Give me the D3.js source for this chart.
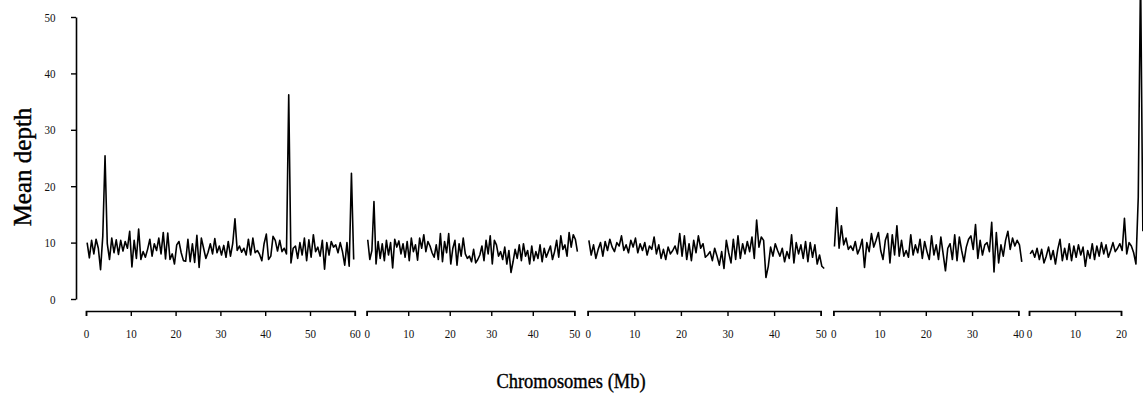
<!DOCTYPE html>
<html>
<head>
<meta charset="utf-8">
<script src="https://cdn.jsdelivr.net/npm/d3@7"></script>
<style>
  body { margin: 0; background: #fff; }
  svg { display: block; }
  text { font-family: "Liberation Serif", "Times New Roman", serif; }
  .tick text { font-size: 13px; fill: #111; }
</style>
</head>
<body>
<div id="grafica"></div>
<script>
// mean depth per 0.5 Mb bin, one array per chromosome
const binMb = 0.5;
const chr1 = [10.0, 7.3, 10.4, 8.0, 10.6, 9.0, 5.2, 11.2, 25.4, 9.8,
  7.0, 10.8, 8.2, 10.5, 7.9, 10.4, 8.5, 10.2, 9.0, 12.0,
  5.7, 10.4, 7.2, 12.4, 7.0, 8.4, 7.4, 8.8, 10.6, 7.6,
  9.8, 8.6, 10.8, 8.0, 11.8, 7.1, 11.7, 7.0, 8.0, 6.2,
  9.6, 10.2, 8.2, 6.8, 6.7, 10.6, 6.6, 9.8, 6.5, 11.3,
  5.6, 10.8, 9.0, 7.2, 8.3, 9.8, 8.0, 10.7, 8.2, 9.4,
  7.8, 9.5, 7.4, 10.2, 7.6, 9.8, 14.2, 8.6, 9.4, 8.3,
  9.0, 7.8, 10.6, 7.8, 10.8, 8.2, 8.6, 7.9, 6.8, 9.8,
  11.5, 7.0, 7.6, 11.1, 10.4, 8.5, 10.4, 8.4, 9.0, 8.0,
  36.2, 6.4, 9.0, 9.4, 7.2, 10.0, 7.8, 10.8, 6.8, 10.5,
  7.4, 11.4, 8.4, 9.2, 7.6, 10.4, 5.3, 10.0, 7.8, 10.2,
  9.2, 9.6, 8.2, 10.0, 8.4, 6.0, 10.0, 5.8, 22.3, 7.0];
const chr2 = [10.5, 7.0, 8.6, 17.3, 6.2, 10.2, 7.2, 9.8, 6.8, 10.4,
  7.8, 10.0, 5.5, 10.6, 9.2, 10.3, 8.0, 9.8, 7.4, 10.2,
  6.8, 10.8, 8.4, 9.6, 6.9, 10.8, 9.0, 11.4, 8.4, 10.2,
  9.4, 8.2, 7.4, 9.6, 7.0, 11.6, 6.6, 10.2, 8.2, 11.6,
  6.2, 9.0, 10.4, 6.0, 9.8, 7.6, 10.8, 8.0, 7.2, 7.6,
  6.6, 8.8, 6.4, 7.0, 7.8, 9.4, 6.8, 10.4, 8.0, 11.2,
  6.2, 10.4, 9.6, 7.6, 8.4, 7.0, 9.2, 6.2, 8.6, 4.7,
  6.6, 8.8, 7.2, 9.6, 6.8, 9.8, 7.6, 8.6, 6.2, 9.4,
  6.8, 8.4, 7.2, 9.6, 6.6, 9.0, 7.4, 8.4, 9.4, 7.0,
  8.4, 10.4, 7.4, 11.2, 8.8, 9.6, 7.6, 11.8, 9.2, 11.4,
  10.6, 8.4];
const chr3 = [10.4, 7.8, 9.6, 7.2, 8.8, 10.0, 7.6, 10.2, 8.6, 10.6,
  9.2, 8.4, 10.0, 9.4, 11.2, 8.6, 9.6, 8.2, 10.4, 9.2,
  10.8, 8.2, 9.8, 8.6, 10.0, 7.8, 9.4, 8.8, 11.0, 8.0,
  9.6, 7.2, 8.8, 7.0, 9.2, 8.0, 8.6, 9.4, 8.0, 11.6,
  7.6, 11.2, 7.0, 9.8, 6.8, 10.4, 8.2, 11.2, 9.0, 9.8,
  7.4, 7.8, 8.4, 6.8, 9.0, 7.6, 6.0, 8.4, 5.4, 10.4,
  8.2, 6.4, 10.6, 7.0, 11.2, 7.2, 9.8, 8.0, 10.2, 8.4,
  11.0, 7.2, 14.0, 9.2, 11.0, 10.4, 3.8, 5.8, 9.2, 7.6,
  9.8, 8.6, 7.6, 9.0, 6.6, 8.4, 7.2, 11.4, 6.4, 10.0,
  8.0, 9.6, 7.2, 10.2, 6.6, 10.0, 7.4, 9.6, 6.2, 7.8,
  5.8, 5.4];
const chr4 = [9.3, 16.2, 9.0, 13.0, 9.6, 10.8, 8.8, 9.4, 8.6, 10.2,
  8.0, 9.0, 10.6, 5.6, 10.0, 8.4, 11.6, 9.2, 10.4, 11.8,
  8.6, 7.0, 10.4, 11.6, 6.4, 11.4, 7.8, 13.0, 7.6, 10.4,
  7.6, 8.6, 7.4, 11.4, 7.8, 9.6, 8.2, 10.6, 7.2, 10.2,
  8.4, 7.0, 11.2, 7.8, 9.6, 7.0, 11.0, 8.0, 5.0, 9.0,
  9.8, 7.0, 11.4, 6.8, 11.0, 8.6, 6.6, 9.2, 10.6, 11.2,
  8.8, 13.2, 7.2, 10.4, 7.8, 9.6, 10.0, 8.4, 13.6, 4.8,
  11.8, 6.4, 9.6, 7.6, 10.4, 12.0, 8.8, 10.8, 9.4, 10.4,
  9.6, 6.6];
const chr5 = [8.0, 8.6, 7.4, 9.0, 7.0, 8.8, 6.4, 7.6, 9.2, 7.0,
  8.6, 6.2, 8.8, 10.6, 6.8, 9.0, 7.0, 9.8, 6.8, 9.4,
  7.4, 9.6, 7.8, 9.2, 5.8, 8.6, 7.2, 9.8, 7.0, 9.4,
  7.6, 10.0, 8.0, 9.6, 7.4, 8.6, 10.0, 8.4, 9.0, 9.8,
  8.6, 14.3, 8.0, 10.0, 9.4, 8.2, 6.2, 18.0, 58.0, 12.0];
const chromosomes = [chr1, chr2, chr3, chr4, chr5];
const axisMaxMb = [60, 50, 50, 40, 20];
const yTicks = [0, 10, 20, 30, 40, 50];

const W = 1143, H = 398;
// pixel span of each chromosome's axis
const panels = [[86, 354.8], [366.7, 574.3], [587.7, 820.7], [833.3, 1018.3], [1029, 1121]];
const squeeze = "scale(0.85,1)"; // the original text is narrow

const svg = d3.select("#grafica").append("svg").attr("width", W).attr("height", H);

const y = d3.scaleLinear().domain([0, 50]).range([299, 17]);

const yAxis = svg.append("g").attr("transform", "translate(76,0)")
  .call(d3.axisLeft(y).tickValues(yTicks).tickSize(5).tickSizeOuter(0).tickPadding(19));
yAxis.select(".domain").attr("stroke", "#000").attr("stroke-width", 1.6);
yAxis.selectAll(".tick line").attr("stroke", "#000").attr("stroke-width", 1.4);
yAxis.selectAll("text").attr("transform", squeeze);

const line = d3.line().x(d => d[0]).y(d => d[1]);

chromosomes.forEach((vals, c) => {
  const x = d3.scaleLinear().domain([0, axisMaxMb[c]]).range(panels[c]);
  const ax = svg.append("g").attr("transform", "translate(0,311)")
    .call(d3.axisBottom(x).ticks(axisMaxMb[c] / 10).tickSize(5).tickPadding(13));
  ax.select(".domain").attr("stroke", "#000").attr("stroke-width", 1.6);
  ax.selectAll(".tick line").attr("stroke", "#000").attr("stroke-width", 1.4);
  ax.selectAll("text").attr("transform", squeeze);

  const pts = vals.map((v, i) => [x((i + 0.5) * binMb), y(v)]);
  svg.append("path").attr("d", line(pts)).attr("fill", "none")
    .attr("stroke", "#000").attr("stroke-width", 1.6).attr("stroke-linejoin", "round");
});

svg.append("text").attr("transform", "translate(31,167) rotate(-90)")
  .attr("text-anchor", "middle").attr("font-size", 25).attr("fill", "#000")
  .attr("stroke", "#000").attr("stroke-width", 0.4)
  .text("Mean depth");

svg.append("text").attr("transform", "translate(571,388) scale(0.84,1)")
  .attr("text-anchor", "middle").attr("font-size", 22).attr("fill", "#000")
  .attr("stroke", "#000").attr("stroke-width", 0.4)
  .text("Chromosomes (Mb)");
</script>
</body>
</html>
